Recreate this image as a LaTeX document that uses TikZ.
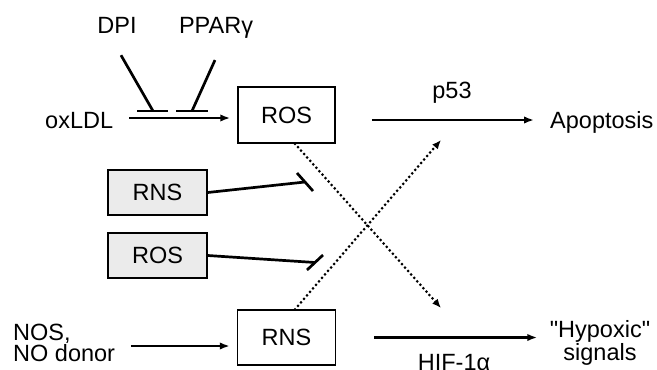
\documentclass[tikz,border=0pt]{standalone}
\usepackage{fontspec}
\newfontfamily\hv{Liberation Sans}
\usetikzlibrary{arrows.meta,calc}
\begin{document}
\begin{tikzpicture}[x=1pt,y=-1pt,
  lbl/.style={inner sep=0pt,font=\hv\fontsize{23.5}{18.5}\selectfont},
  box/.style={draw,line width=1.5pt,minimum width=97pt,minimum height=56pt,inner sep=0pt,font=\hv\fontsize{23.5}{18.5}\selectfont},
  graybox/.style={box,fill=gray!16,minimum width=99pt,minimum height=45pt},
  arr/.style={line width=2.8pt,-{Latex[length=10pt,width=7.5pt]}},
  inh/.style={line width=2.7pt},
  dotarr/.style={line width=3pt,line cap=round,dash pattern=on 0pt off 4.6pt,-{Latex[length=9pt,width=7.5pt]}}
]
\useasboundingbox (0,0) rectangle (657,370);
% text labels
\node[lbl,anchor=base] (dpi) at (117,33) {DPI};
\node[lbl,anchor=base] (ppar) at (216,33) {PPARγ};
\node[lbl,anchor=base west] (ox) at (45,128) {oxLDL};
\node[lbl,anchor=base] (p53) at (452,98) {p53};
\node[lbl,anchor=base west] (apop) at (550,128) {Apoptosis};
\node[lbl,anchor=north west,align=left] (nos) at (13,324) {NOS,\\NO donor};
\node[lbl,anchor=north,align=center] (hyp) at (600,320) {"Hypoxic"\\signals};
\node[lbl,anchor=base] (hif) at (454,370) {HIF-1α};
% boxes
\node[box] (ros) at (286.5,115) {ROS};
\node[box,minimum width=98pt,minimum height=55pt] (rns) at (286.5,337.5) {RNS};
\node[graybox] (rnsg) at (157.5,192.5) {RNS};
\node[graybox] (rosg) at (157.5,255.5) {ROS};
% oxLDL -> ROS
\draw[arr] ($(ox.base east)+(16,-10)$) -- ($(ros.west)+(-7,3)$);
% DPI, PPAR inhibitions
\coordinate (dpibar) at (153,111);
\coordinate (pparbar) at (192,111);
\draw[inh] ($(dpi.south)+(4,22)$) -- (dpibar);
\draw[inh] ($(dpibar)+(-16,0)$) -- ($(dpibar)+(15,0)$);
\draw[inh] ($(ppar.south)+(-1,22)$) -- (pparbar);
\draw[inh] ($(pparbar)+(-16,0)$) -- ($(pparbar)+(16,0)$);
% ROS -> Apoptosis via p53
\draw[arr] ($(ros.east)+(36,5)$) -- ($(apop.base west)+(-16,-8)$);
% RNS -> Hypoxic signals via HIF
\draw[arr] ($(rns.east)+(38,0)$) -- ($(rns.east)+(201,0)$);
% NOS -> RNS
\draw[arr] ($(rns.west)+(-106,8.5)$) -- ($(rns.west)+(-7,8.5)$);
% dotted cross
\coordinate (hifend) at (441,308);
\coordinate (p53end) at (441,140);
\draw[dotarr] ($(ros.south)+(8.5,0)$) -- (hifend);
\draw[dotarr] ($(rns.north)+(8.5,0)$) -- (p53end);
% gray inhibitions
\coordinate (b1) at (305,182);
\coordinate (b2) at (315,262.5);
\draw[inh] (rnsg.east) -- (b1);
\draw[inh] ($(b1)+(-8,-9)$) -- ($(b1)+(8,9)$);
\draw[inh] (rosg.east) -- (b2);
\draw[inh] ($(b2)+(-8,7.5)$) -- ($(b2)+(8,-7.5)$);
\end{tikzpicture}
\end{document}
